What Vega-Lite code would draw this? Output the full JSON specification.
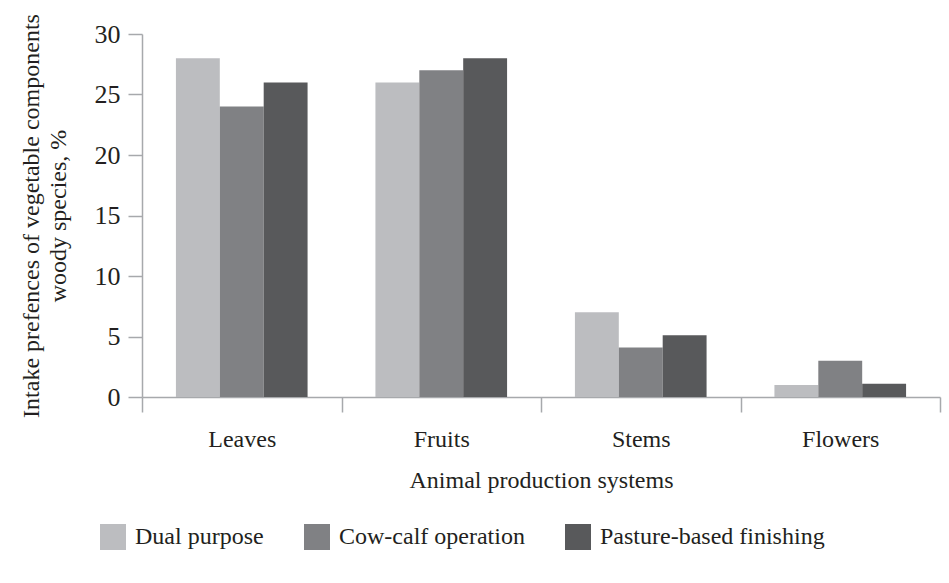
{
  "$schema": "https://vega.github.io/schema/vega-lite/v6.json",
  "autosize": {"type": "none"},
  "width": 798,
  "height": 363,
  "padding": {"left": 142, "top": 34, "right": 9, "bottom": 186},
  "background": "white",
  "config": {
    "font": "Liberation Serif",
    "view": {"stroke": null},
    "axis": {"labelColor": "#231f20", "titleColor": "#231f20", "domainColor": "#a7a9ac", "tickColor": "#a7a9ac", "grid": false, "titleFontWeight": "normal"}
  },
  "data": {
    "values": [
      {"part": "Leaves", "system": "Dual purpose", "value": 28},
      {"part": "Leaves", "system": "Cow-calf operation", "value": 24},
      {"part": "Leaves", "system": "Pasture-based finishing", "value": 26},
      {"part": "Fruits", "system": "Dual purpose", "value": 26},
      {"part": "Fruits", "system": "Cow-calf operation", "value": 27},
      {"part": "Fruits", "system": "Pasture-based finishing", "value": 28},
      {"part": "Stems", "system": "Dual purpose", "value": 7},
      {"part": "Stems", "system": "Cow-calf operation", "value": 4.1},
      {"part": "Stems", "system": "Pasture-based finishing", "value": 5.1},
      {"part": "Flowers", "system": "Dual purpose", "value": 1},
      {"part": "Flowers", "system": "Cow-calf operation", "value": 3},
      {"part": "Flowers", "system": "Pasture-based finishing", "value": 1.1}
    ]
  },
  "mark": {"type": "bar"},
  "encoding": {
    "x": {
      "field": "part", "type": "nominal", "sort": ["Leaves", "Fruits", "Stems", "Flowers"],
      "scale": {"paddingInner": 0, "paddingOuter": 0},
      "axis": {"title": "Animal production systems", "titleFontSize": 24, "titlePadding": 17, "labelFontSize": 24, "labelAngle": 0, "labelPadding": 15, "tickSize": 15, "tickBand": "extent", "domainWidth": 1.5, "tickWidth": 1.5}
    },
    "xOffset": {
      "field": "system", "type": "nominal", "sort": ["Dual purpose", "Cow-calf operation", "Pasture-based finishing"],
      "scale": {"paddingInner": 0, "paddingOuter": 0.773}
    },
    "y": {
      "field": "value", "type": "quantitative",
      "scale": {"domain": [0, 30], "nice": false},
      "axis": {"values": [0, 5, 10, 15, 20, 25, 30], "title": ["Intake prefences of vegetable components", "woody species, %"], "titleFontSize": 24, "titleLineHeight": 27, "titlePadding": 24, "labelFontSize": 26, "labelPadding": 8, "tickSize": 14, "domainWidth": 1.5, "tickWidth": 1.5}
    },
    "color": {
      "field": "system", "type": "nominal", "sort": ["Dual purpose", "Cow-calf operation", "Pasture-based finishing"],
      "scale": {"domain": ["Dual purpose", "Cow-calf operation", "Pasture-based finishing"], "range": ["#bcbdc0", "#808184", "#58595b"]},
      "legend": {"title": null, "orient": "none", "direction": "horizontal", "legendX": -42, "legendY": 490, "padding": 0, "symbolType": "square", "symbolSize": 676, "symbolStrokeWidth": 0, "symbolOpacity": 1, "labelFontSize": 24, "labelColor": "#231f20", "labelOffset": 9, "columnPadding": 40, "labelLimit": 400}
    }
  }
}
